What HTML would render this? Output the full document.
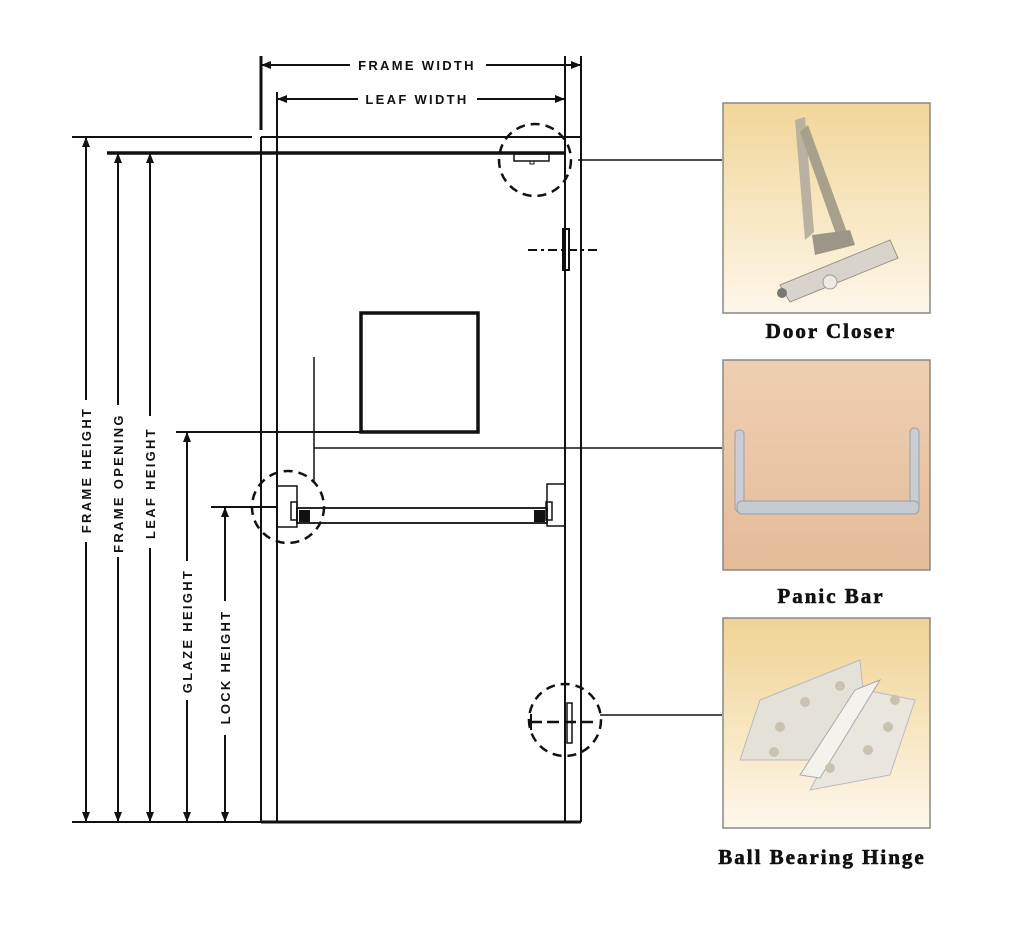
<!DOCTYPE html>
<html><head><meta charset="utf-8"><style>
html,body{margin:0;padding:0;background:#fff;}
svg{display:block;}
.d{font-family:"Liberation Sans",sans-serif;font-weight:bold;font-size:13px;letter-spacing:2.3px;fill:#111;}
.l{font-family:"Liberation Serif",serif;font-weight:bold;font-size:21px;letter-spacing:2px;fill:#111;stroke:#111;stroke-width:0.6px;}
</style></head><body>
<svg width="1024" height="944" viewBox="0 0 1024 944" xmlns="http://www.w3.org/2000/svg">
<defs>
<marker id="a" viewBox="0 0 10 10" refX="9" refY="5" markerWidth="5" markerHeight="5" orient="auto-start-reverse"><path d="M0,1 L10,5 L0,9 Z" fill="#111"/></marker>
<linearGradient id="g1" x1="0" y1="0" x2="0" y2="1"><stop offset="0" stop-color="#f1d699"/><stop offset="0.6" stop-color="#f8e9c8"/><stop offset="1" stop-color="#fdf7ea"/></linearGradient>
<linearGradient id="g2" x1="0" y1="0" x2="0" y2="1"><stop offset="0" stop-color="#efcfb2"/><stop offset="1" stop-color="#e3bc98"/></linearGradient>
<linearGradient id="g3" x1="0" y1="0" x2="0" y2="1"><stop offset="0" stop-color="#f0d394"/><stop offset="0.6" stop-color="#f8e8c6"/><stop offset="1" stop-color="#fdf8ec"/></linearGradient>
</defs>
<g stroke="#111" fill="none" stroke-width="2">
<line x1="261" y1="56" x2="261" y2="130" stroke-width="3"/>
<line x1="581" y1="56" x2="581" y2="822"/>
<line x1="565" y1="56" x2="565" y2="822"/>
<line x1="277" y1="92" x2="277" y2="822"/>
<line x1="261" y1="137" x2="261" y2="822"/>
<line x1="261" y1="137" x2="581" y2="137"/>
<line x1="261" y1="822" x2="581" y2="822" stroke-width="3"/>
<line x1="107" y1="153" x2="565" y2="153" stroke-width="3.5"/>
<line x1="72" y1="137" x2="252" y2="137"/>
<line x1="72" y1="822" x2="261" y2="822"/>
<line x1="262" y1="65" x2="350" y2="65" marker-start="url(#a)"/>
<line x1="486" y1="65" x2="580" y2="65" marker-end="url(#a)"/>
<line x1="278" y1="99" x2="358" y2="99" marker-start="url(#a)"/>
<line x1="477" y1="99" x2="564" y2="99" marker-end="url(#a)"/>
<line x1="86" y1="138" x2="86" y2="400" marker-start="url(#a)"/>
<line x1="86" y1="542" x2="86" y2="821" marker-end="url(#a)"/>
<line x1="118" y1="154" x2="118" y2="405" marker-start="url(#a)"/>
<line x1="118" y1="557" x2="118" y2="821" marker-end="url(#a)"/>
<line x1="150" y1="154" x2="150" y2="416" marker-start="url(#a)"/>
<line x1="150" y1="548" x2="150" y2="821" marker-end="url(#a)"/>
<line x1="176" y1="432" x2="360" y2="432"/>
<line x1="187" y1="433" x2="187" y2="561" marker-start="url(#a)"/>
<line x1="187" y1="700" x2="187" y2="821" marker-end="url(#a)"/>
<line x1="211" y1="507" x2="276" y2="507"/>
<line x1="225" y1="508" x2="225" y2="601" marker-start="url(#a)"/>
<line x1="225" y1="735" x2="225" y2="821" marker-end="url(#a)"/>
<rect x="361" y="313" width="117" height="119" stroke-width="3.5"/>
<circle cx="535" cy="160" r="36" stroke-dasharray="9,6" stroke-width="2.5"/>
<rect x="514" y="154" width="35" height="7" stroke-width="1.5"/>
<rect x="530" y="161" width="4" height="3" stroke-width="1"/>
<line x1="578" y1="160" x2="722" y2="160" stroke-width="1.5"/>
<rect x="563" y="229" width="6" height="41" stroke-width="2"/>
<line x1="528" y1="250" x2="597" y2="250" stroke-dasharray="9,4,3,4" stroke-width="2"/>
<line x1="314" y1="357" x2="314" y2="482" stroke-width="1.5"/>
<line x1="314" y1="448" x2="722" y2="448" stroke-width="1.5"/>
<rect x="277" y="486" width="20" height="41" stroke-width="1.5"/>
<rect x="291" y="502" width="6" height="18" stroke-width="1.5"/>
<rect x="547" y="484" width="18" height="42" stroke-width="1.5"/>
<rect x="546" y="502" width="6" height="18" stroke-width="1.5"/>
<rect x="297" y="508" width="250" height="15" stroke-width="1.8"/>
<rect x="299" y="510" width="11" height="12" fill="#111" stroke="none"/>
<rect x="534" y="510" width="11" height="12" fill="#111" stroke="none"/>
<circle cx="288" cy="507" r="36" stroke-dasharray="9,6" stroke-width="2.5"/>
<line x1="253" y1="507" x2="276" y2="507" stroke-width="1.5"/>
<circle cx="565" cy="720" r="36" stroke-dasharray="9,6" stroke-width="2.5"/>
<rect x="567" y="703" width="5" height="40" stroke-width="1.5"/>
<line x1="530" y1="722" x2="595" y2="722" stroke-dasharray="12,5" stroke-width="2.5"/>
<line x1="531" y1="714" x2="531" y2="730" stroke-width="2"/>
<line x1="600" y1="715" x2="722" y2="715" stroke-width="1.5"/>
</g>
<text class="d" x="417" y="70" text-anchor="middle">FRAME WIDTH</text>
<text class="d" x="417" y="104" text-anchor="middle">LEAF WIDTH</text>
<text class="d" transform="translate(91,470) rotate(-90)" text-anchor="middle">FRAME HEIGHT</text>
<text class="d" transform="translate(123,483) rotate(-90)" text-anchor="middle">FRAME OPENING</text>
<text class="d" transform="translate(155,483) rotate(-90)" text-anchor="middle">LEAF HEIGHT</text>
<text class="d" transform="translate(192,631) rotate(-90)" text-anchor="middle">GLAZE HEIGHT</text>
<text class="d" transform="translate(230,667) rotate(-90)" text-anchor="middle">LOCK HEIGHT</text>
<rect x="723" y="103" width="207" height="210" fill="url(#g1)" stroke="#888" stroke-width="1.5"/>
<g>
<polygon points="795,120 805,117 814,232 805,240" fill="#b9b2a0"/>
<polygon points="808,125 848,235 838,240 800,132" fill="#a8a08a"/>
<polygon points="780,285 890,240 898,258 790,302" fill="#d8d4cc" stroke="#9a9488" stroke-width="1"/>
<polygon points="812,235 850,230 855,245 815,255" fill="#9c9687"/>
<circle cx="830" cy="282" r="7" fill="#eeeae0" stroke="#999"/>
<circle cx="782" cy="293" r="5" fill="#777"/>
</g>
<text class="l" x="831" y="338" text-anchor="middle">Door Closer</text>
<rect x="723" y="360" width="207" height="210" fill="url(#g2)" stroke="#888" stroke-width="1.5"/>
<g>
<rect x="735" y="430" width="9" height="82" rx="4" fill="#c9ccd2" stroke="#9aa0a8"/>
<rect x="910" y="428" width="9" height="82" rx="4" fill="#c9ccd2" stroke="#9aa0a8"/>
<rect x="737" y="501" width="182" height="13" rx="5" fill="#c6cad1" stroke="#9aa0a8"/>
</g>
<text class="l" x="831" y="603" text-anchor="middle">Panic Bar</text>
<rect x="723" y="618" width="207" height="210" fill="url(#g3)" stroke="#888" stroke-width="1.5"/>
<g>
<polygon points="760,700 860,660 870,760 740,760" fill="#e4e1d8" stroke="#bbb"/>
<polygon points="865,690 915,700 890,775 810,790" fill="#e9e6de" stroke="#bbb"/>
<polygon points="855,690 880,680 820,778 800,775" fill="#f4f2ec" stroke="#aaa"/>
<circle cx="780" cy="727" r="5" fill="#c9c2b0"/><circle cx="774" cy="752" r="5" fill="#c9c2b0"/>
<circle cx="805" cy="702" r="5" fill="#c9c2b0"/><circle cx="840" cy="686" r="5" fill="#c9c2b0"/>
<circle cx="895" cy="700" r="5" fill="#c9c2b0"/><circle cx="888" cy="727" r="5" fill="#c9c2b0"/>
<circle cx="868" cy="750" r="5" fill="#c9c2b0"/><circle cx="830" cy="768" r="5" fill="#c9c2b0"/>
</g>
<text class="l" x="822" y="864" text-anchor="middle">Ball Bearing Hinge</text>
</svg>
</body></html>
